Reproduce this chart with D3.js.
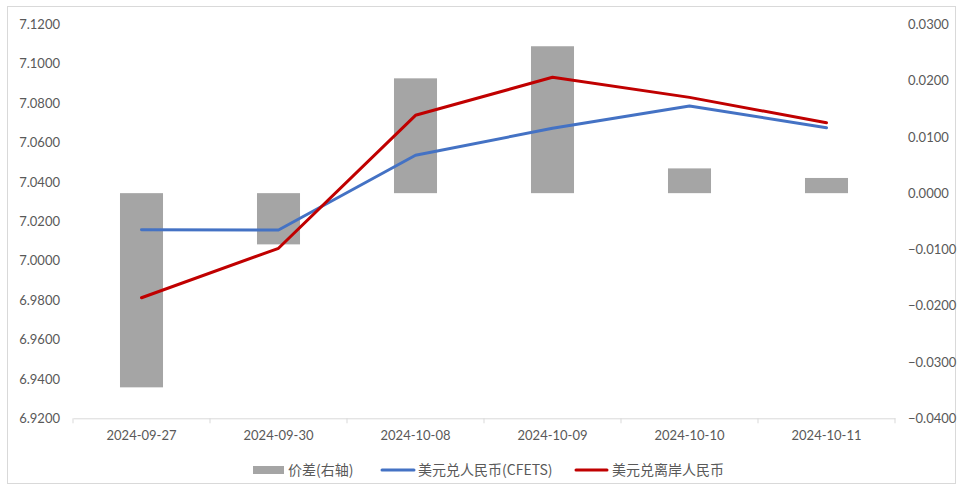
<!DOCTYPE html>
<html><head><meta charset="utf-8">
<script src="https://cdn.jsdelivr.net/npm/d3@7"></script>
<style>
html,body{margin:0;padding:0;background:#fff;}
svg{display:block;}
text{font-family:Lato,"Noto Sans CJK SC",sans-serif;fill:#595959;}
</style></head><body>
<script>
const categories = ["2024-09-27","2024-09-30","2024-10-08","2024-10-09","2024-10-10","2024-10-11"];
const spread = [-0.0345,-0.0091,0.0204,0.0261,0.0044,0.0027];
const cfets = [7.0157,7.0156,7.0535,7.0672,7.0785,7.0675];
const offshore = [6.9812,7.0063,7.0738,7.0931,7.0829,7.0700];
const leftTicks = [6.92,6.94,6.96,6.98,7.00,7.02,7.04,7.06,7.08,7.10,7.12];
const rightTicks = [-0.04,-0.03,-0.02,-0.01,0,0.01,0.02,0.03];
const seriesNames = ["价差(右轴)","美元兑人民币(CFETS)","美元兑离岸人民币"];

const W=963,H=490;
const m={l:73,r:68,t:24.3,b:71.7};
const svg=d3.select("body").append("svg").attr("width",W).attr("height",H);
svg.append("rect").attr("x",7.5).attr("y",6.5).attr("width",W-15).attr("height",H-13)
  .attr("fill","#fff").attr("stroke","#D9D9D9").attr("stroke-width",1);

const x=d3.scaleBand().domain(categories).range([m.l,W-m.r]).paddingInner(0.686).paddingOuter(0.343);
const xb=d3.scaleBand().domain(categories).range([m.l,W-m.r]);
const yL=d3.scaleLinear().domain([6.92,7.12]).range([H-m.b,m.t]);
const yR=d3.scaleLinear().domain([-0.04,0.03]).range([H-m.b,m.t]);

const gl=svg.append("g").attr("transform",`translate(${m.l},0)`)
  .call(d3.axisLeft(yL).tickValues(leftTicks).tickFormat(d3.format(".4f")).tickSize(0).tickPadding(13));
gl.select(".domain").remove();
gl.selectAll("text").attr("font-size",13).style("font-family","Lato").attr("fill","#595959");

const gr=svg.append("g").attr("transform",`translate(${W-m.r},0)`)
  .call(d3.axisRight(yR).tickValues(rightTicks).tickFormat(d3.format(".4f")).tickSize(0).tickPadding(13));
gr.select(".domain").remove();
gr.selectAll("text").attr("font-size",13).style("font-family","Lato").attr("fill","#595959");

svg.append("g").selectAll("rect").data(spread).join("rect")
  .attr("x",(d,i)=>x(categories[i]))
  .attr("width",x.bandwidth())
  .attr("y",d=>yR(Math.max(0,d)))
  .attr("height",d=>Math.abs(yR(d)-yR(0)))
  .attr("fill","#A5A5A5");

const gx=svg.append("g").attr("transform",`translate(0,${H-m.b})`)
  .call(d3.axisBottom(xb).tickSize(0).tickPadding(12));
gx.select(".domain").attr("stroke","#D9D9D9");
gx.selectAll("text").attr("font-size",13).style("font-family","Lato").attr("fill","#595959");
const bounds=categories.map(c=>xb(c)).concat([xb(categories[categories.length-1])+xb.bandwidth()]);
svg.append("g").selectAll("line").data(bounds).join("line")
  .attr("x1",d=>d).attr("x2",d=>d).attr("y1",H-m.b).attr("y2",H-m.b+5)
  .attr("stroke","#D9D9D9");

const cx=(i)=>xb(categories[i])+xb.bandwidth()/2;
const line=(scale)=>d3.line().x((d,i)=>cx(i)).y(d=>scale(d));
svg.append("path").datum(cfets).attr("d",line(yL)).attr("fill","none")
  .attr("stroke","#4472C4").attr("stroke-width",3).attr("stroke-linejoin","round").attr("stroke-linecap","round");
svg.append("path").datum(offshore).attr("d",line(yL)).attr("fill","none")
  .attr("stroke","#C00000").attr("stroke-width",3).attr("stroke-linejoin","round").attr("stroke-linecap","round");

const ly=470;
const lg=svg.append("g");
lg.append("rect").attr("x",253).attr("y",ly-4).attr("width",31).attr("height",8).attr("fill","#A5A5A5");
lg.append("text").attr("x",288).attr("y",ly).attr("dy","0.35em").attr("font-size",14).style("font-family","'Noto Sans CJK SC'").text(seriesNames[0]);
lg.append("line").attr("x1",382).attr("x2",414).attr("y1",ly).attr("y2",ly).attr("stroke","#4472C4").attr("stroke-width",3).attr("stroke-linecap","round");
lg.append("text").attr("x",418).attr("y",ly).attr("dy","0.35em").attr("font-size",14).style("font-family","'Noto Sans CJK SC'").text(seriesNames[1]);
lg.append("line").attr("x1",576).attr("x2",607).attr("y1",ly).attr("y2",ly).attr("stroke","#C00000").attr("stroke-width",3).attr("stroke-linecap","round");
lg.append("text").attr("x",612).attr("y",ly).attr("dy","0.35em").attr("font-size",14).style("font-family","'Noto Sans CJK SC'").text(seriesNames[2]);
</script>
</body></html>
